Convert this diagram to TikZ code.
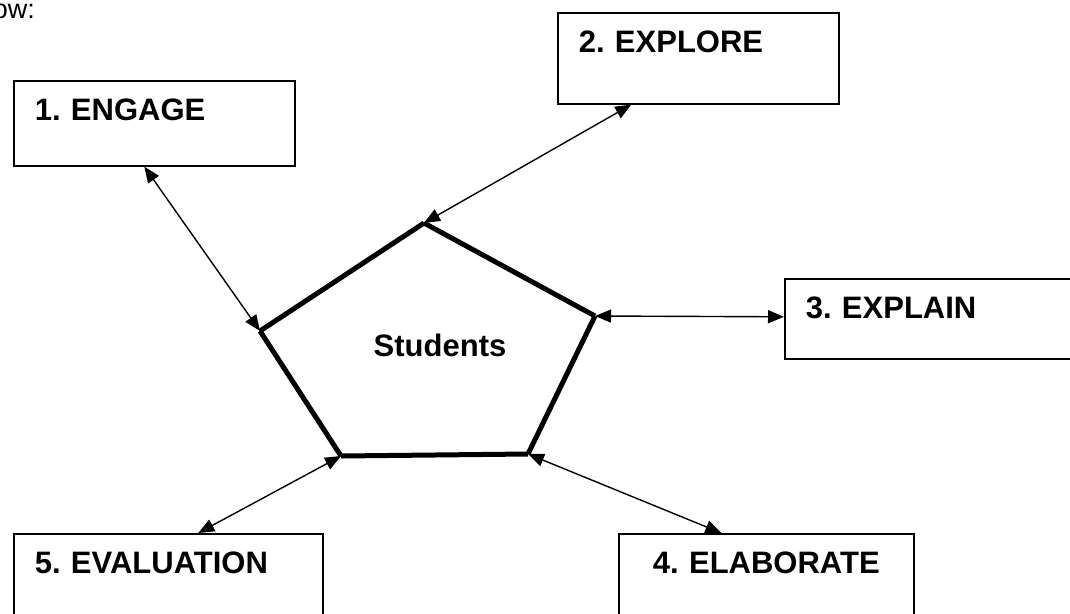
\documentclass[tikz,border=0pt]{standalone}
\usepackage{fontspec}
\setmainfont{Liberation Sans}
\usetikzlibrary{arrows.meta}
\frenchspacing

\begin{document}
\begin{tikzpicture}[
        x=1pt, y=-1pt,
        stage/.style={draw,line width=1.6pt,anchor=north west,inner xsep=21pt,inner ysep=18pt,
            text height=22pt,align=left,font=\fontsize{31}{36}\selectfont\bfseries},
        side/.style={line width=5pt,line cap=butt},
        link/.style={{Triangle[length=16pt,width=13pt]}-{Triangle[length=16pt,width=13pt]},line width=1.4pt}
    ]
        \useasboundingbox (0,0) rectangle (1070,613);

        % Define the nodes
        \node[anchor=base east,inner sep=0pt,font=\fontsize{27}{32}\selectfont] (intro) at (35,18) {ow:};
        \node[stage,text width=239pt,text depth=27pt] (engage) at (13,80) {1. ENGAGE};
        \node[stage,text width=239pt,text depth=33pt] (explore) at (557,12) {2. EXPLORE};
        \node[stage,text width=258pt,text depth=22pt] (explain) at (784,278) {3. EXPLAIN};
        \node[stage,text width=253pt,text depth=42pt,align=center] (elaborate) at (618,533) {4. ELABORATE};
        \node[stage,text width=267pt,text depth=42pt] (evaluation) at (13,533) {5. EVALUATION};
        \node[font=\fontsize{31}{36}\selectfont\bfseries] (students) at (440,345) {Students};

        % Corners of the pentagon
        \coordinate (top) at (424,223);
        \coordinate (right) at (595,316);
        \coordinate (lowright) at (528,454);
        \coordinate (lowleft) at (341,456);
        \coordinate (left) at (260,331);

        % Draw the sides one by one
        \draw [side] (left) -- (top);
        \draw [side] (top) -- (right);
        \draw [side] (right) -- (lowright);
        \draw [side] (lowright) -- (lowleft);
        \draw [side] (lowleft) -- (left);

        % Draw the double arrows to the stages
        \draw [link] ([xshift=-10pt]engage.south) -- (left);
        \draw [link] (top) -- ([xshift=-67pt]explore.south);
        \draw [link] (right) -- ([yshift=2pt]explain.west);
        \draw [link] (lowright) -- ([xshift=-45pt]elaborate.north);
        \draw [link] (lowleft) -- ([xshift=30pt]evaluation.north);
    \end{tikzpicture}
\end{document}
